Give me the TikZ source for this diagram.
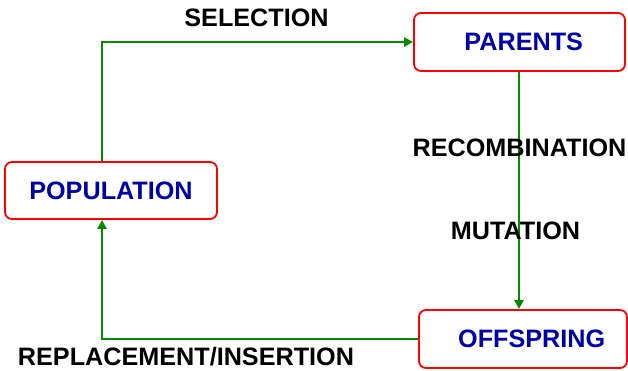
\documentclass[tikz,border=0pt]{standalone}
\usepackage{fontspec}
\setmainfont{Liberation Sans}
\usetikzlibrary{arrows.meta}
\definecolor{boxred}{RGB}{255,0,0}
\definecolor{txtblue}{RGB}{0,0,170}
\definecolor{arrgreen}{RGB}{0,140,0}
\begin{document}
\begin{tikzpicture}[x=1pt,y=-1pt,
  box/.style={draw=boxred,line width=1.8pt,rounded corners=7pt,fill=white,
    text=txtblue,font=\fontsize{25.2}{27}\selectfont\bfseries,inner sep=0pt},
  lab/.style={font=\fontsize{25.2}{27}\selectfont\bfseries,anchor=base,inner sep=0pt},
  conn/.style={draw=arrgreen,line width=2.3pt,-{Triangle[length=9pt,width=9pt]}}]
\useasboundingbox (0,0) rectangle (628,370);
\node[box,minimum width=212pt,minimum height=57pt] (pop) at (111,190.5) {POPULATION};
\node[box,minimum width=211pt,minimum height=58pt] (par) at (519.5,42) {\hspace*{8.4pt}PARENTS};
\node[box,minimum width=208pt,minimum height=58pt] (off) at (523,339) {\hspace*{17.4pt}OFFSPRING};
\draw[conn] ([xshift=-9pt]pop.north) |- (par.west);
\draw[conn] ([xshift=-0.5pt]par.south) -- ([xshift=-0.5pt]par.south |- off.north);
\draw[conn] (off.west) -| ([xshift=-9pt]pop.south);
\node[lab] (sel) at (256.5,26.7) {SELECTION};
\node[lab] (rec) at (519.5,156.7) {RECOMBINATION};
\node[lab] (mut) at (515.5,239) {MUTATION};
\node[lab] (rep) at (186,365.5) {REPLACEMENT/INSERTION};
\end{tikzpicture}
\end{document}
